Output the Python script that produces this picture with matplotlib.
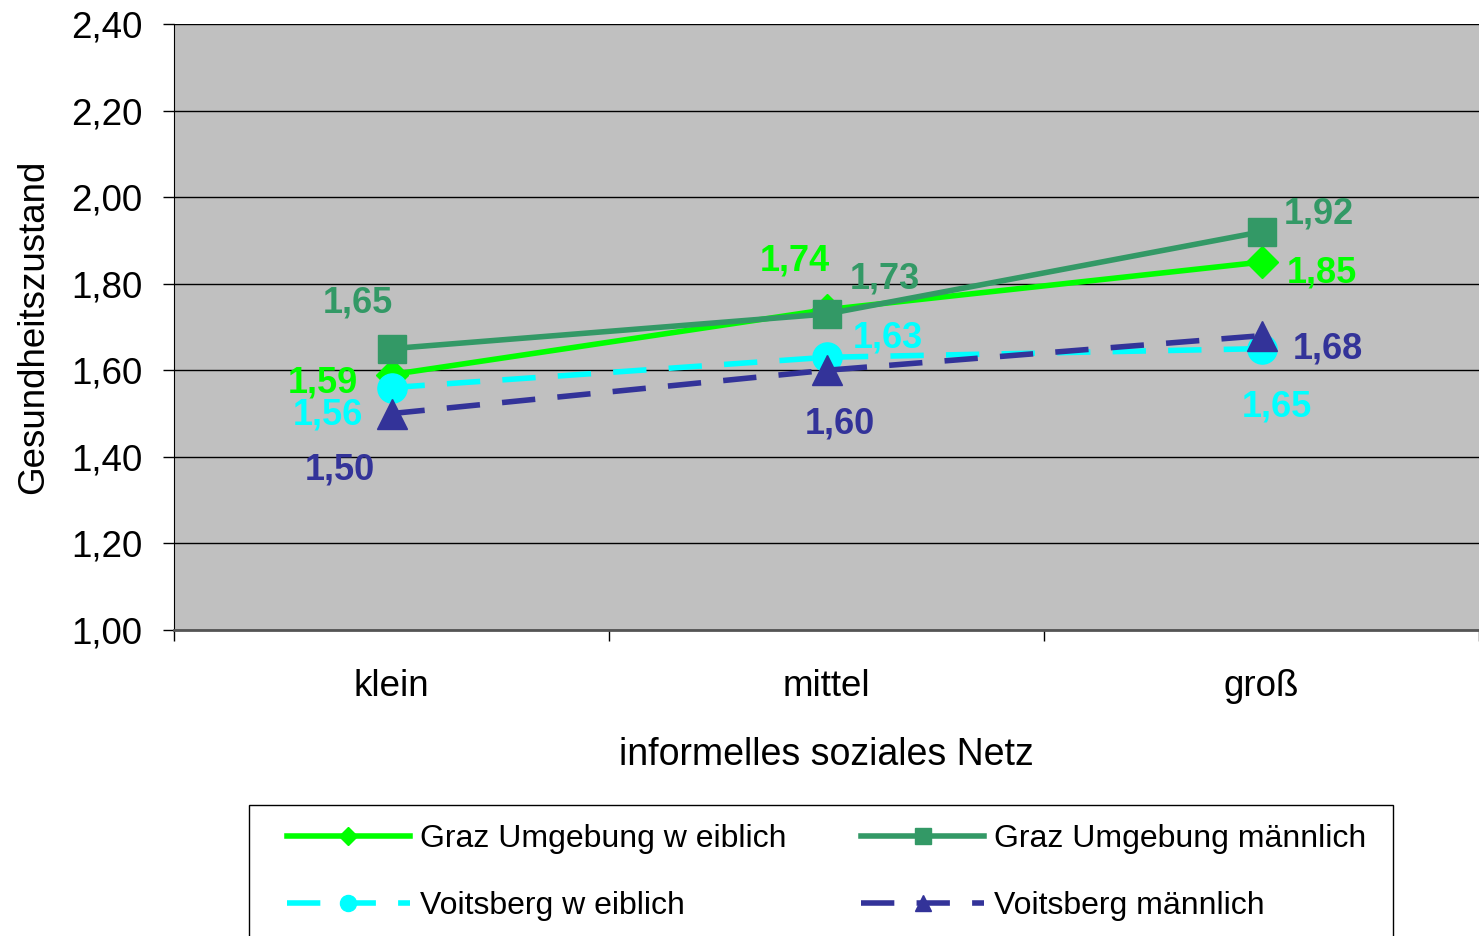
"""
Gesundheitszustand nach informellem sozialen Netz, Graz Umgebung vs. Voitsberg.
"""

import matplotlib.pyplot as plt
from matplotlib.patches import Rectangle

categories = ["klein", "mittel", "groß"]
series_names = ["Graz Umgebung w eiblich", "Graz Umgebung männlich",
                "Voitsberg w eiblich", "Voitsberg männlich"]
graz_w = [1.59, 1.74, 1.85]
graz_m = [1.65, 1.73, 1.92]
voits_w = [1.56, 1.63, 1.65]
voits_m = [1.50, 1.60, 1.68]
y_ticks = [1.00, 1.20, 1.40, 1.60, 1.80, 2.00, 2.20, 2.40]

# styles and label offsets (pixels) per series
styles = [
    dict(color="#00FF00", marker="D", ms=16, ls="-"),
    dict(color="#339966", marker="s", ms=20, ls="-"),
    dict(color="#00FFFF", marker="o", ms=21, ls=(0, (6, 4))),
    dict(color="#333399", marker="^", ms=22, ls=(0, (6, 4))),
]
offsets = [
    [(-69, -8), (-32, 49), (60, -11)],
    [(-34, 46), (58, 35), (57, 18)],
    [(-64, -27), (61, 19), (15, -58)],
    [(-52, -56), (13, -54), (66, -13)],
]

plt.rcParams['font.family'] = ['Liberation Sans', 'DejaVu Sans']

fig = plt.figure(figsize=(14.79, 9.36), dpi=100)
ax = fig.add_axes([174 / 1479, 1 - 630 / 936, 1 - 174 / 1479, (630 - 24) / 936])
ax.set_facecolor("#C0C0C0")

x = [0.5, 1.5, 2.5]
handles = []
for name, vals, st, offs in zip(series_names, [graz_w, graz_m, voits_w, voits_m], styles, offsets):
    h, = ax.plot(x, vals, color=st["color"], lw=4, ls=st["ls"], marker=st["marker"],
                 ms=st["ms"], mec=st["color"], mfc=st["color"], label=name, zorder=3)
    handles.append(h)
    for xi, v, (dx, dy) in zip(x, vals, offs):
        ax.annotate(f"{v:.2f}".replace(".", ","), (xi, v), xytext=(dx, dy),
                    textcoords="offset pixels", ha="center", va="center",
                    fontsize=26, fontweight="bold", color=st["color"], zorder=4)

ax.set_xlim(0, 3)
ax.set_ylim(1.0, 2.4)
ax.set_yticks(y_ticks)
ax.set_yticklabels([f"{t:.2f}".replace(".", ",") for t in y_ticks], fontsize=26.5)
ax.yaxis.grid(True, color="black", lw=1)
ax.set_axisbelow(True)

ax.set_xticks([0, 1, 2, 3])
ax.set_xticklabels([])
ax.set_xticks(x, minor=True)
ax.set_xticklabels(categories, minor=True, fontsize=26.5)
ax.tick_params(axis="x", which="minor", length=0, pad=28)
ax.tick_params(axis="both", which="major", length=8, width=1, direction="out")
ax.tick_params(axis="y", pad=15)
ax.spines["bottom"].set_color("#555555")
ax.spines["bottom"].set_linewidth(2)

for s in ["top", "right"]:
    ax.spines[s].set_visible(False)

ax.set_xlabel("informelles soziales Netz", fontsize=27, labelpad=24)
ax.set_ylabel("Gesundheitszustand", fontsize=26.5, labelpad=14)

# legend frame runs past the bottom edge of the figure
fig.patches.append(Rectangle((249 / 1479, -0.05), (1393 - 249) / 1479, 1 - 805 / 936 + 0.05,
                             transform=fig.transFigure, facecolor="white",
                             edgecolor="black", lw=1))
order = [0, 2, 1, 3]
fig.legend(handles=[handles[i] for i in order], loc="upper left", ncol=2,
           bbox_to_anchor=(287 / 1479, 1 - 824 / 936),
           fontsize=23, frameon=False, handlelength=3.85, handletextpad=0.31,
           columnspacing=2.35, borderaxespad=0, borderpad=0, labelspacing=1.15,
           markerscale=0.55)

fig.savefig("out.png", dpi=100)
